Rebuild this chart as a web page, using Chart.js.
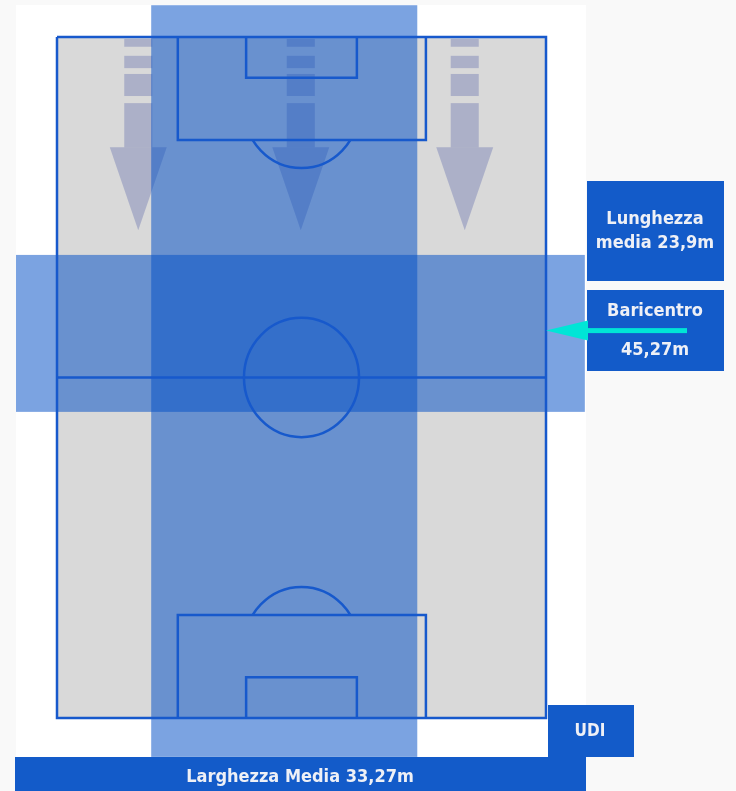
<!DOCTYPE html>
<html>
<head>
<meta charset="utf-8">
<script src="https://cdn.jsdelivr.net/npm/chart.js@4.4.0/dist/chart.umd.min.js"></script>
<style>
  html, body { margin: 0; padding: 0; background: #f9f9f9; }
  #wrap { width: 736px; height: 791px; }
</style>
</head>
<body>
<div id="wrap"><canvas id="pitchChart"></canvas></div>
<script>
// pitch in metres: x across, y down from the top goal line
const pitchWidth = 68;
const pitchLength = 105;

const halfwayY = [52.5];
const penaltyBoxX = [16.8, 51.3];
const penaltyBoxDepth = [15.9];
const goalBoxX = [26.3, 41.7];
const goalBoxDepth = [6.3];
const penaltySpot = [11];
const circleRadius = [8.0, 9.2];

// team shape bands
const widthBandX = [13.1, 50.1];
const widthBandY = [-4.9, 111];
const lengthBandX = [-5.7, 73.4];
const lengthBandY = [33.6, 57.8];
const baricentroY = [45.27];

// attack arrows
const arrowX = [11.3, 33.9, 56.7];
const arrowDashes = [[0.3, 1.5], [2.9, 4.8], [5.7, 9.1], [10.2, 17.0]];
const arrowHead = [17.0, 29.8];
const arrowShaft = 1.95;
const arrowWing = 3.96;

// labels
const lengthLabel = ['Lunghezza', 'media 23,9m'];
const centreLabel = ['Baricentro', '45,27m'];
const teamLabel = 'UDI';
const widthLabel = 'Larghezza Media 33,27m';

const LINE = '#1759cc';
const BOX = '#135bc9';
const BAND = 'rgba(5, 82, 198, 0.53)';
const ARROW = 'rgba(110, 120, 176, 0.42)';
const FONT = '"DejaVu Sans Condensed", "Liberation Sans Narrow", Roboto, sans-serif';

const pts = arr => arr.map(p => ({x: p[0], y: p[1]}));
const lineSet = arr => ({
    data: pts(arr),
    showLine: true,
    borderColor: LINE,
    borderWidth: 2.5,
    pointRadius: 0,
    fill: false,
    clip: false
});

const datasets = [
    lineSet([[0, 0], [pitchWidth, 0], [pitchWidth, pitchLength], [0, pitchLength], [0, 0]]),
    lineSet([[0, halfwayY[0]], [pitchWidth, halfwayY[0]]]),
    lineSet([[penaltyBoxX[0], 0], [penaltyBoxX[0], penaltyBoxDepth[0]], [penaltyBoxX[1], penaltyBoxDepth[0]], [penaltyBoxX[1], 0]]),
    lineSet([[goalBoxX[0], 0], [goalBoxX[0], goalBoxDepth[0]], [goalBoxX[1], goalBoxDepth[0]], [goalBoxX[1], 0]]),
    lineSet([[penaltyBoxX[0], pitchLength], [penaltyBoxX[0], pitchLength - penaltyBoxDepth[0]], [penaltyBoxX[1], pitchLength - penaltyBoxDepth[0]], [penaltyBoxX[1], pitchLength]]),
    lineSet([[goalBoxX[0], pitchLength], [goalBoxX[0], pitchLength - goalBoxDepth[0]], [goalBoxX[1], pitchLength - goalBoxDepth[0]], [goalBoxX[1], pitchLength]])
];

const pitchArt = {
    id: 'pitchArt',
    beforeDatasetsDraw(chart) {
        const {ctx, scales: {x, y}} = chart;
        const px = v => x.getPixelForValue(v);
        const py = v => y.getPixelForValue(v);
        const rect = (x0, x1, y0, y1) => ctx.fillRect(px(x0), py(y0), px(x1) - px(x0), py(y1) - py(y0));
        ctx.save();
        // white sheet behind the pitch
        ctx.fillStyle = '#ffffff';
        ctx.fillRect(16, 5, 570, 786);
        // grass
        ctx.fillStyle = '#d9d9d9';
        rect(0, pitchWidth, 0, pitchLength);
        // arrows
        ctx.fillStyle = ARROW;
        arrowX.forEach(ax => {
            arrowDashes.forEach(d => rect(ax - arrowShaft, ax + arrowShaft, d[0], d[1]));
            ctx.beginPath();
            ctx.moveTo(px(ax - arrowWing), py(arrowHead[0]));
            ctx.lineTo(px(ax + arrowWing), py(arrowHead[0]));
            ctx.lineTo(px(ax), py(arrowHead[1]));
            ctx.closePath();
            ctx.fill();
        });
        // bands
        ctx.fillStyle = BAND;
        rect(widthBandX[0], widthBandX[1], widthBandY[0], widthBandY[1]);
        rect(lengthBandX[0], lengthBandX[1], lengthBandY[0], lengthBandY[1]);
        ctx.restore();
    },
    afterDatasetsDraw(chart) {
        const {ctx, scales: {x, y}} = chart;
        const px = v => x.getPixelForValue(v);
        const py = v => y.getPixelForValue(v);
        const rx = px(circleRadius[0]) - px(0);
        const ry = py(circleRadius[1]) - py(0);
        const cx = px(pitchWidth / 2);
        ctx.save();
        ctx.strokeStyle = LINE;
        ctx.lineWidth = 2.5;
        ctx.beginPath();
        ctx.ellipse(cx, py(halfwayY[0]), rx, ry, 0, 0, Math.PI * 2);
        ctx.stroke();
        // penalty arcs, only the part outside the box
        ctx.save();
        ctx.beginPath();
        ctx.rect(0, py(penaltyBoxDepth[0]), chart.width, 100);
        ctx.clip();
        ctx.beginPath();
        ctx.ellipse(cx, py(penaltySpot[0]), rx, ry, 0, 0, Math.PI * 2);
        ctx.stroke();
        ctx.restore();
        ctx.save();
        ctx.beginPath();
        ctx.rect(0, py(pitchLength - penaltyBoxDepth[0]) - 100, chart.width, 100);
        ctx.clip();
        ctx.beginPath();
        ctx.ellipse(cx, py(pitchLength - penaltySpot[0]), rx, ry, 0, 0, Math.PI * 2);
        ctx.stroke();
        ctx.restore();

        // label boxes
        ctx.fillStyle = BOX;
        ctx.fillRect(587, 181, 137, 100);
        ctx.fillRect(587, 290, 137, 81);
        ctx.fillRect(548, 705, 86, 52);
        ctx.fillRect(15, 757, 571, 34);

        // baricentro arrow
        const by = py(baricentroY[0]);
        ctx.fillStyle = '#00e5d6';
        ctx.fillRect(587, by - 2.5, 100, 5);
        ctx.beginPath();
        ctx.moveTo(px(pitchWidth), by);
        ctx.lineTo(588, by - 10);
        ctx.lineTo(588, by + 10);
        ctx.closePath();
        ctx.fill();

        ctx.fillStyle = '#eef0f6';
        ctx.textAlign = 'center';
        ctx.textBaseline = 'alphabetic';
        ctx.font = 'bold 18px ' + FONT;
        ctx.fillText(lengthLabel[0], 655, 224);
        ctx.fillText(lengthLabel[1], 655, 248);
        ctx.fillText(centreLabel[0], 655, 316);
        ctx.fillText(centreLabel[1], 655, 355);
        ctx.fillText(widthLabel, 300, 782);
        ctx.font = 'bold 17px ' + FONT;
        ctx.fillText(teamLabel, 590, 736);
        ctx.restore();
    }
};

new Chart(document.getElementById('pitchChart'), {
    type: 'scatter',
    data: { datasets: datasets },
    options: {
        responsive: true,
        maintainAspectRatio: false,
        animation: false,
        events: [],
        layout: { padding: { left: 57, right: 190, top: 37, bottom: 73 } },
        scales: {
            x: { type: 'linear', min: 0, max: pitchWidth, display: false },
            y: { type: 'linear', min: 0, max: pitchLength, reverse: true, display: false }
        },
        plugins: {
            legend: { display: false },
            tooltip: { enabled: false }
        }
    },
    plugins: [pitchArt]
});
</script>
</body>
</html>
